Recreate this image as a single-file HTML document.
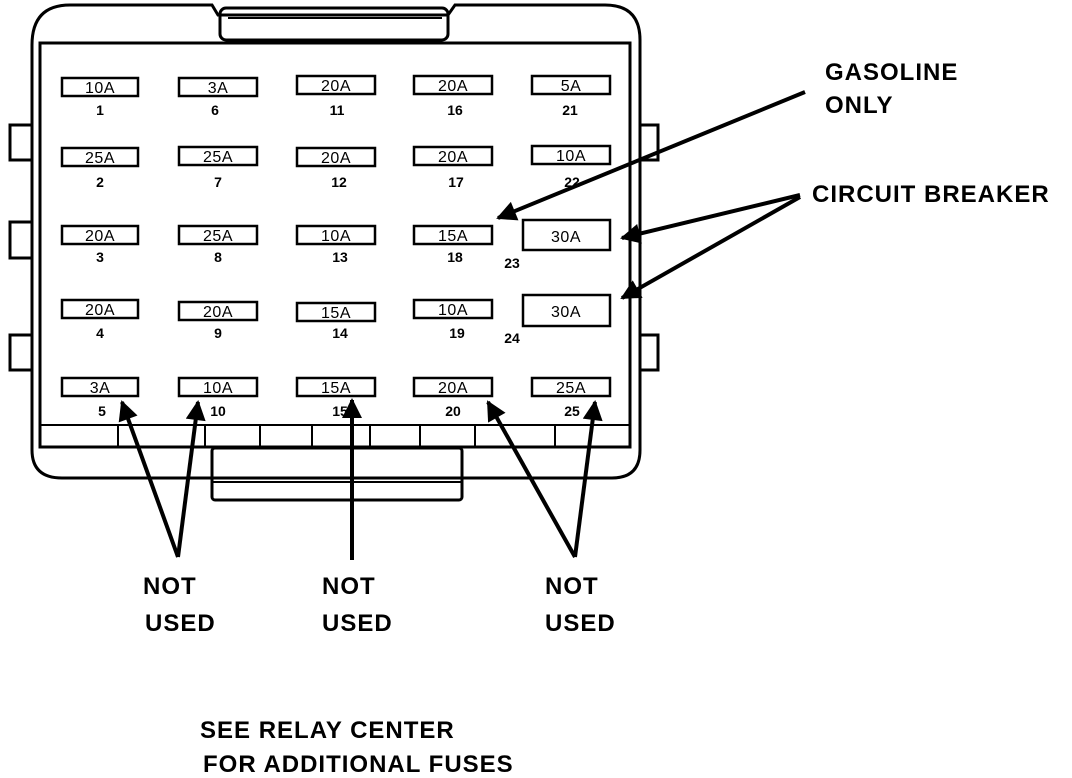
<!DOCTYPE html>
<html><head><style>body{margin:0;background:#fff}svg{display:block}</style></head><body>
<svg width="1072" height="778" viewBox="0 0 1072 778" xmlns="http://www.w3.org/2000/svg" font-family="Liberation Sans, sans-serif" font-weight="bold">
<defs><marker id="ah" viewBox="0 0 10 10" refX="9" refY="5" markerWidth="7" markerHeight="5" orient="auto-start-reverse"><path d="M0,0 L10,5 L0,10 z" fill="#000"/></marker></defs>
<g fill="none" stroke="#000" stroke-width="3">
<path d="M32,45 Q32,5 70,5 L212,5 L218,15 L448,15 L455,5 L605,5 Q640,5 640,40 L640,450 Q640,478 612,478 L62,478 Q32,478 32,450 Z"/>
<rect x="220" y="8" width="228" height="32" rx="6"/>
<line x1="228" y1="18" x2="442" y2="18" stroke-width="2"/>
<rect x="40" y="43" width="590" height="404" stroke-width="3"/>
<rect x="212" y="448" width="250" height="52" rx="3"/>
<line x1="212" y1="482" x2="462" y2="482" stroke-width="2"/>
<line x1="40" y1="425" x2="630" y2="425" stroke-width="2"/>
<g stroke-width="2"><line x1="118" y1="425" x2="118" y2="447"/><line x1="205" y1="425" x2="205" y2="447"/><line x1="260" y1="425" x2="260" y2="447"/><line x1="312" y1="425" x2="312" y2="447"/><line x1="370" y1="425" x2="370" y2="447"/><line x1="420" y1="425" x2="420" y2="447"/><line x1="475" y1="425" x2="475" y2="447"/><line x1="555" y1="425" x2="555" y2="447"/></g>
<path d="M32,125 L10,125 L10,160 L32,160"/><path d="M32,222 L10,222 L10,258 L32,258"/><path d="M32,335 L10,335 L10,370 L32,370"/>
<path d="M640,125 L658,125 L658,160 L640,160"/><path d="M640,335 L658,335 L658,370 L640,370"/>
<g stroke-width="2.5">
<rect x="62" y="78" width="76" height="18"/><rect x="179" y="78" width="78" height="18"/><rect x="297" y="76" width="78" height="18"/><rect x="414" y="76" width="78" height="18"/><rect x="532" y="76" width="78" height="18"/>
<rect x="62" y="148" width="76" height="18"/><rect x="179" y="147" width="78" height="18"/><rect x="297" y="148" width="78" height="18"/><rect x="414" y="147" width="78" height="18"/><rect x="532" y="146" width="78" height="18"/>
<rect x="62" y="226" width="76" height="18"/><rect x="179" y="226" width="78" height="18"/><rect x="297" y="226" width="78" height="18"/><rect x="414" y="226" width="78" height="18"/>
<rect x="62" y="300" width="76" height="18"/><rect x="179" y="302" width="78" height="18"/><rect x="297" y="303" width="78" height="18"/><rect x="414" y="300" width="78" height="18"/>
<rect x="62" y="378" width="76" height="18"/><rect x="179" y="378" width="78" height="18"/><rect x="297" y="378" width="78" height="18"/><rect x="414" y="378" width="78" height="18"/><rect x="532" y="378" width="78" height="18"/>
<rect x="523" y="220" width="87" height="30"/><rect x="523" y="295" width="87" height="31"/>
</g>
</g>
<g font-size="16" font-weight="normal" text-anchor="middle" letter-spacing="0.5">
<text x="100" y="93">10A</text><text x="218" y="93">3A</text><text x="336" y="91">20A</text><text x="453" y="91">20A</text><text x="571" y="91">5A</text>
<text x="100" y="163">25A</text><text x="218" y="162">25A</text><text x="336" y="163">20A</text><text x="453" y="162">20A</text><text x="571" y="161">10A</text>
<text x="100" y="241">20A</text><text x="218" y="241">25A</text><text x="336" y="241">10A</text><text x="453" y="241">15A</text><text x="566" y="242">30A</text>
<text x="100" y="315">20A</text><text x="218" y="317">20A</text><text x="336" y="318">15A</text><text x="453" y="315">10A</text><text x="566" y="317">30A</text>
<text x="100" y="393">3A</text><text x="218" y="393">10A</text><text x="336" y="393">15A</text><text x="453" y="393">20A</text><text x="571" y="393">25A</text>
</g>
<g font-size="14" text-anchor="middle">
<text x="100" y="115">1</text><text x="215" y="115">6</text><text x="337" y="115">11</text><text x="455" y="115">16</text><text x="570" y="115">21</text>
<text x="100" y="187">2</text><text x="218" y="187">7</text><text x="339" y="187">12</text><text x="456" y="187">17</text><text x="572" y="187">22</text>
<text x="100" y="262">3</text><text x="218" y="262">8</text><text x="340" y="262">13</text><text x="455" y="262">18</text><text x="512" y="268">23</text>
<text x="100" y="338">4</text><text x="218" y="338">9</text><text x="340" y="338">14</text><text x="457" y="338">19</text><text x="512" y="343">24</text>
<text x="102" y="416">5</text><text x="218" y="416">10</text><text x="340" y="416">15</text><text x="453" y="416">20</text><text x="572" y="416">25</text>
</g>
<g stroke="#000" stroke-width="4" marker-end="url(#ah)">
<line x1="805" y1="92" x2="498" y2="218"/>
<line x1="800" y1="195" x2="622" y2="238"/>
<line x1="800" y1="197" x2="622" y2="298"/>
<line x1="178" y1="557" x2="122" y2="402"/>
<line x1="178" y1="557" x2="198" y2="402"/>
<line x1="352" y1="560" x2="352" y2="400"/>
<line x1="575" y1="557" x2="488" y2="402"/>
<line x1="575" y1="557" x2="595" y2="402"/>
</g>
<g font-size="24" letter-spacing="1">
<text x="825" y="80">GASOLINE</text><text x="825" y="113">ONLY</text>
<text x="812" y="202">CIRCUIT BREAKER</text>
<text x="143" y="594">NOT</text><text x="145" y="631">USED</text>
<text x="322" y="594">NOT</text><text x="322" y="631">USED</text>
<text x="545" y="594">NOT</text><text x="545" y="631">USED</text>
<text x="200" y="738">SEE RELAY CENTER</text><text x="203" y="772">FOR ADDITIONAL FUSES</text>
</g>
</svg>
</body></html>
